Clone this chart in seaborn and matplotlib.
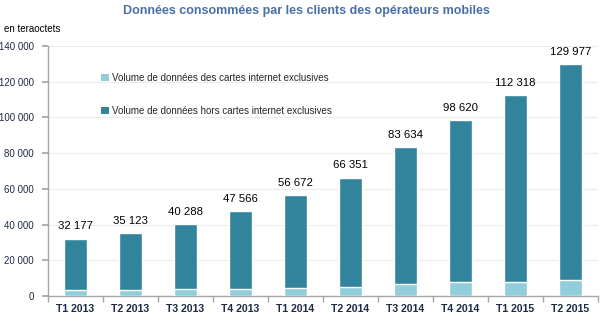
import matplotlib
matplotlib.use("Agg")
import matplotlib.pyplot as plt
from matplotlib.patches import Patch
from matplotlib.ticker import FuncFormatter, FixedLocator
import seaborn as sns
import pandas as pd

quarters = ["T1 2013", "T2 2013", "T3 2013", "T4 2013", "T1 2014",
            "T2 2014", "T3 2014", "T4 2014", "T1 2015", "T2 2015"]
total_volume = [32177, 35123, 40288, 47566, 56672, 66351, 83634, 98620, 112318, 129977]
internet_cards = [3400, 3300, 3700, 4100, 4700, 5000, 6800, 7700, 8000, 9000]
y_ticks = [0, 20000, 40000, 60000, 80000, 100000, 120000, 140000]

dark = "#31849B"
light = "#92CDDC"

df = pd.DataFrame({"quarter": quarters, "total": total_volume, "cards": internet_cards})

sns.set_theme(style="white")
plt.rcParams["font.family"] = ["Liberation Sans", "DejaVu Sans"]

fig = plt.figure(figsize=(6.12, 3.23), dpi=100)
ax = fig.add_axes([0.0784, 0.0836, 0.8986, 0.774])

sns.barplot(data=df, x="quarter", y="total", color=dark, saturation=1,
            width=0.42, ax=ax, zorder=2)
sns.barplot(data=df, x="quarter", y="cards", color=light, saturation=1,
            width=0.42, ax=ax, zorder=3)

for i, v in enumerate(total_volume):
    ax.text(i, v + 4000, f"{v:,}".replace(",", " "), ha="center", va="bottom",
            fontsize=8.2, color="black", clip_on=False)

ax.set_ylim(0, 140000)
ax.set_xlim(-0.5, len(quarters) - 0.5)
ax.yaxis.set_major_locator(FixedLocator(y_ticks))
ax.yaxis.set_major_formatter(FuncFormatter(lambda v, p: f"{int(v):,}".replace(",", " ")))
ax.grid(axis="y", color="#ececec", linewidth=0.8, zorder=0)
ax.set_axisbelow(True)
ax.set_xlabel("")
ax.set_ylabel("")

for s in ["top", "right"]:
    ax.spines[s].set_visible(False)
for s in ["left", "bottom"]:
    ax.spines[s].set_color("#a6a6a6")
    ax.spines[s].set_linewidth(1.0)

ax.tick_params(axis="x", which="major", length=0, pad=6, labelsize=7.6, labelcolor="#1f2a44")
ax.set_xticks([i - 0.5 for i in range(len(quarters) + 1)], minor=True)
ax.tick_params(axis="x", which="minor", length=4, color="#a6a6a6", direction="out", bottom=True)
ax.tick_params(axis="y", which="major", length=4, color="#a6a6a6", left=True,
               labelsize=7, labelcolor="#1f2a44", pad=6)
for lbl in ax.get_xticklabels():
    lbl.set_fontweight("bold")

handles = [Patch(facecolor=light, edgecolor="none"),
           Patch(facecolor=dark, edgecolor="none")]
labels = ["Volume de données des cartes internet exclusives",
          "Volume de données hors cartes internet exclusives"]
ax.legend(handles, labels, loc="upper left", bbox_to_anchor=(0.09, 0.907),
          frameon=False, fontsize=7, labelspacing=2.35, handlelength=0.8,
          handleheight=0.8, handletextpad=0.3, borderaxespad=0)

fig.text(0.5, 0.965, "Données consommées par les clients des opérateurs mobiles",
         ha="center", va="center", fontsize=9, fontweight="bold", color="#4a6fa5")
fig.text(0.007, 0.91, "en teraoctets", ha="left", va="center", fontsize=7, color="black")

fig.savefig("out.png", dpi=100)
